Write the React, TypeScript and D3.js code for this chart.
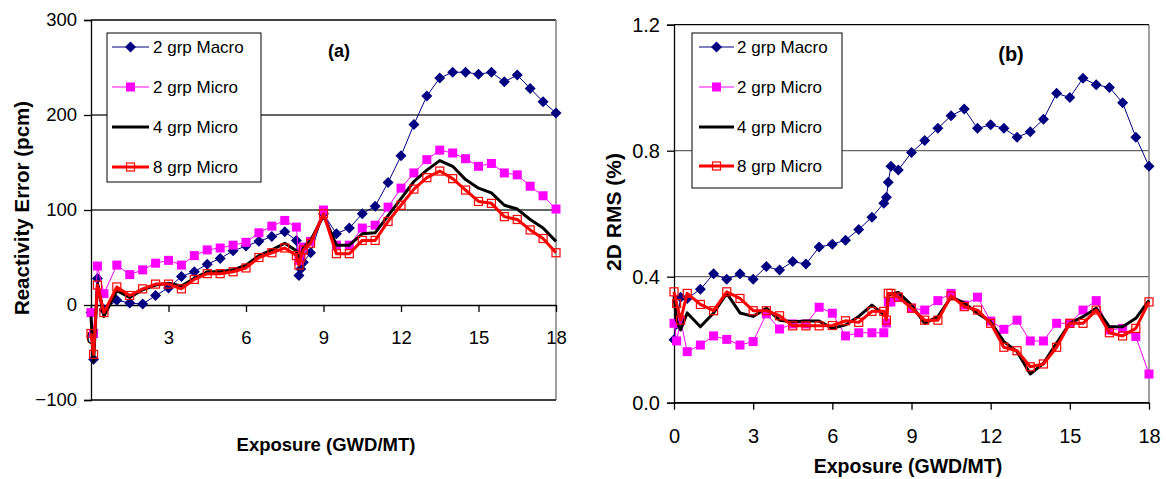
import React, { useRef, useEffect } from 'react';
import * as d3 from 'd3';

// exposure points (GWD/MT), shared by both panels
const exposure = [
  0, 0.1, 0.25, 0.5,
  1, 1.5, 2, 2.5, 3, 3.5, 4, 4.5, 5, 5.5, 6, 6.5, 7, 7.5,
  7.95, 8.05, 8.12, 8.22, 8.5,
  9, 9.5, 10, 10.5, 11, 11.5, 12, 12.5, 13, 13.5, 14, 14.5, 15, 15.5, 16, 16.5, 17, 17.5, 18,
];

const seriesNames = ['2 grp Macro', '2 grp Micro', '4 grp Micro', '8 grp Micro'];

// (a) reactivity error, pcm
const reactMacro2 = [
  -8, -57, 28, -5,
  5, 2, 1, 10, 18, 30, 35, 43, 49, 57, 62, 67, 72, 77,
  68, 31, 38, 45, 55,
  96, 75, 81, 96, 104, 129, 157, 190, 220, 239, 245, 245, 243, 245, 235, 242, 228, 214, 202,
];
const reactMicro2 = [
  -8, -30, 41, 12,
  42, 32, 37, 44, 47, 42, 52, 58, 60, 63, 66, 76, 83, 89,
  82, 47, 55, 61, 67,
  100, 63, 63, 81, 84, 103, 123, 139, 153, 163, 160, 154, 146, 149, 139, 137, 125, 115, 101,
];
const reactMicro4 = [
  -12, -60, 22, -12,
  15, 8, 16, 21, 23, 20, 28, 35, 35, 37, 42, 52, 58, 65,
  57, 45, 52, 60, 68,
  94, 63, 63, 75, 76, 94, 112, 130, 142, 152, 146, 132, 123, 118, 105, 101, 90, 81, 67,
];
const reactMicro8 = [
  -30, -52, 21, -8,
  19, 10, 17, 22, 22, 17, 27, 33, 33, 35, 39, 50, 55, 60,
  52, 42, 50, 58, 65,
  96, 54, 54, 68, 68, 88, 105, 122, 134, 141, 133, 121, 109, 107, 93, 90, 79, 70, 55,
];

// (b) 2D RMS, %
const rmsMacro2 = [
  0.2, 0.25, 0.335, 0.331,
  0.36, 0.409, 0.392, 0.409, 0.392, 0.432, 0.421, 0.448, 0.44, 0.494, 0.503, 0.516, 0.55, 0.589,
  0.633, 0.652, 0.7, 0.751, 0.739,
  0.794, 0.832, 0.871, 0.911, 0.932, 0.871, 0.882, 0.871, 0.843, 0.86, 0.9, 0.982, 0.969, 1.03, 1.009, 1.001, 0.952, 0.843, 0.751,
];
const rmsMicro2 = [
  0.252, 0.196, 0.262, 0.162,
  0.183, 0.212, 0.201, 0.183, 0.194, 0.282, 0.234, 0.25, 0.25, 0.303, 0.284, 0.212, 0.222, 0.222,
  0.222, 0.253, 0.32, 0.32, 0.335,
  0.3, 0.294, 0.324, 0.347, 0.31, 0.335, 0.259, 0.233, 0.262, 0.196, 0.196, 0.252, 0.252, 0.294, 0.324, 0.231, 0.236, 0.21, 0.091,
];
const rmsMicro4 = [
  0.34, 0.26, 0.231, 0.285,
  0.241, 0.285, 0.347, 0.285, 0.274, 0.3, 0.262, 0.257, 0.259, 0.259, 0.236, 0.247, 0.274, 0.31,
  0.28, 0.27, 0.34, 0.345, 0.35,
  0.31, 0.252, 0.273, 0.335, 0.317, 0.284, 0.257, 0.194, 0.162, 0.091, 0.125, 0.189, 0.252, 0.273, 0.3, 0.241, 0.241, 0.268, 0.325,
];
const rmsMicro8 = [
  0.352, 0.315, 0.262, 0.347,
  0.312, 0.292, 0.352, 0.331, 0.292, 0.292, 0.276, 0.244, 0.244, 0.244, 0.245, 0.26, 0.255, 0.29,
  0.29, 0.262, 0.347, 0.347, 0.335,
  0.3, 0.262, 0.262, 0.339, 0.305, 0.294, 0.252, 0.176, 0.165, 0.114, 0.123, 0.176, 0.252, 0.252, 0.294, 0.222, 0.212, 0.236, 0.32,
];

const xTicks = [0, 3, 6, 9, 12, 15, 18];
const reactTicks = [-100, 0, 100, 200, 300];
const rmsTicks = [0, 0.4, 0.8, 1.2];

const FONT = 'Arial, "Liberation Sans", sans-serif';

// line / marker look of each series
const styles = [
  { color: '#000080', width: 1, marker: 'diamond' },
  { color: '#FF00FF', width: 1, marker: 'square' },
  { color: '#000000', width: 3, marker: 'none' },
  { color: '#FF0000', width: 3, marker: 'hollow' },
];

function drawMarker(g, kind, color, x, y) {
  if (kind === 'diamond') {
    g.append('path')
      .attr('d', `M${x},${y - 5.5}L${x + 5.5},${y}L${x},${y + 5.5}L${x - 5.5},${y}Z`)
      .attr('fill', color);
  } else if (kind === 'square') {
    g.append('rect').attr('x', x - 4.5).attr('y', y - 4.5).attr('width', 9).attr('height', 9)
      .attr('fill', color);
  } else if (kind === 'hollow') {
    g.append('rect').attr('x', x - 4).attr('y', y - 4).attr('width', 8).attr('height', 8)
      .attr('fill', 'none').attr('stroke', color).attr('stroke-width', 1.2);
  }
}

function drawPanel(svg, cfg) {
  const x = d3.scaleLinear().domain([0, 18]).range([cfg.left, cfg.right]);
  const y = d3.scaleLinear().domain(cfg.yDomain).range([cfg.bottom, cfg.top]);
  const g = svg.append('g');

  // gridlines
  cfg.grid.forEach(v => {
    g.append('line').attr('x1', cfg.left).attr('x2', cfg.right)
      .attr('y1', y(v)).attr('y2', y(v))
      .attr('stroke', cfg.gridColor).attr('stroke-width', 1.3);
  });

  // plot frame
  g.append('line').attr('x1', cfg.left).attr('x2', cfg.right).attr('y1', cfg.top).attr('y2', cfg.top)
    .attr('stroke', '#000').attr('stroke-width', 1.3);
  g.append('line').attr('x1', cfg.right).attr('x2', cfg.right).attr('y1', cfg.top).attr('y2', cfg.bottom)
    .attr('stroke', '#808080').attr('stroke-width', 1.5);
  g.append('line').attr('x1', cfg.left).attr('x2', cfg.right).attr('y1', cfg.bottom).attr('y2', cfg.bottom)
    .attr('stroke', '#000').attr('stroke-width', 1.3);

  // y axis
  const yAxis = g.append('g').attr('transform', `translate(${cfg.left},0)`)
    .call(d3.axisLeft(y).tickValues(cfg.yTicks).tickSize(7).tickFormat(cfg.yFormat));
  yAxis.select('.domain').attr('stroke', '#000').attr('stroke-width', 1.3);
  yAxis.selectAll('.tick line').attr('stroke', '#000').attr('stroke-width', 1.3);
  yAxis.selectAll('.tick text').attr('font-family', FONT).attr('font-size', cfg.tickSize)
    .attr('fill', '#000').attr('x', -cfg.yLabelGap);

  // x axis, crossing at y = 0
  const xAxis = g.append('g').attr('transform', `translate(0,${y(0)})`)
    .call(d3.axisBottom(x).tickValues(xTicks).tickSize(7).tickSizeOuter(0));
  xAxis.select('.domain').attr('stroke', '#000').attr('stroke-width', 1.3);
  xAxis.selectAll('.tick line').attr('stroke', '#000').attr('stroke-width', 1.3);
  xAxis.selectAll('.tick text').attr('font-family', FONT).attr('font-size', cfg.tickSize)
    .attr('fill', '#000').attr('dy', null).attr('y', cfg.xLabelDy);

  // series
  const line = d3.line().x(d => x(d[0])).y(d => y(d[1]));
  cfg.series.forEach((vals, i) => {
    const st = styles[i];
    const pts = exposure.map((e, j) => [e, vals[j]]);
    g.append('path').datum(pts).attr('d', line)
      .attr('fill', 'none').attr('stroke', st.color).attr('stroke-width', st.width)
      .attr('stroke-linejoin', 'round');
    pts.forEach(p => drawMarker(g, st.marker, st.color, x(p[0]), y(p[1])));
  });

  // legend
  const lg = g.append('g');
  lg.append('rect').attr('x', cfg.legend.x).attr('y', cfg.legend.y)
    .attr('width', cfg.legend.w).attr('height', cfg.legend.h)
    .attr('fill', '#fff').attr('stroke', '#000').attr('stroke-width', 1);
  seriesNames.forEach((name, i) => {
    const st = styles[i];
    const ry = cfg.legend.rows[i];
    const lx0 = cfg.legend.lineX0, lx1 = cfg.legend.lineX1;
    lg.append('line').attr('x1', lx0).attr('x2', lx1).attr('y1', ry).attr('y2', ry)
      .attr('stroke', st.color).attr('stroke-width', st.width);
    drawMarker(lg, st.marker, st.color, (lx0 + lx1) / 2, ry);
    lg.append('text').attr('x', cfg.legend.textX).attr('y', ry + 6)
      .attr('font-family', FONT).attr('font-size', 17).attr('fill', '#000').text(name);
  });

  // panel tag
  g.append('text').attr('x', cfg.tag.x).attr('y', cfg.tag.y).attr('text-anchor', 'middle')
    .attr('font-family', FONT).attr('font-size', cfg.tag.size).attr('font-weight', 'bold')
    .text(cfg.tag.text);

  // axis titles
  g.append('text').attr('x', cfg.xTitle.x).attr('y', cfg.xTitle.y).attr('text-anchor', 'middle')
    .attr('font-family', FONT).attr('font-size', cfg.xTitle.size).attr('font-weight', 'bold')
    .text('Exposure (GWD/MT)');
  g.append('text')
    .attr('transform', `translate(${cfg.yTitle.x},${cfg.yTitle.y}) rotate(-90)`)
    .attr('text-anchor', 'middle')
    .attr('font-family', FONT).attr('font-size', cfg.yTitle.size).attr('font-weight', 'bold')
    .text(cfg.yTitle.text);
}

export default function App() {
  const svgRef = useRef(null);

  useEffect(() => {
    document.body.style.margin = '0';
    const svg = d3.select(svgRef.current);
    svg.selectAll('*').remove();

    drawPanel(svg, {
      left: 91, right: 556, top: 20, bottom: 400,
      yDomain: [-100, 300], yTicks: reactTicks, yFormat: d3.format('d'),
      grid: [100, 200], gridColor: '#333',
      tickSize: 18.5, yLabelGap: 14, xLabelDy: 39,
      series: [reactMacro2, reactMicro2, reactMicro4, reactMicro8],
      legend: { x: 107, y: 33, w: 154, h: 149, rows: [47, 87, 127, 167], lineX0: 112, lineX1: 149, textX: 153 },
      tag: { x: 339, y: 57, size: 18, text: '(a)' },
      xTitle: { x: 326, y: 451, size: 18.5 },
      yTitle: { x: 29, y: 208, size: 20.5, text: 'Reactivity Error (pcm)' },
    });

    drawPanel(svg, {
      left: 674, right: 1149, top: 24.7, bottom: 402.7,
      yDomain: [0, 1.2], yTicks: rmsTicks, yFormat: d3.format('.1f'),
      grid: [0.4, 0.8], gridColor: '#666',
      tickSize: 20, yLabelGap: 14, xLabelDy: 40,
      series: [rmsMacro2, rmsMicro2, rmsMicro4, rmsMicro8],
      legend: { x: 692, y: 33, w: 150, h: 155, rows: [47, 87, 127, 166], lineX0: 699, lineX1: 734, textX: 737 },
      tag: { x: 1011, y: 61, size: 20, text: '(b)' },
      xTitle: { x: 908, y: 473, size: 19.5 },
      yTitle: { x: 621, y: 212, size: 21, text: '2D RMS (%)' },
    });
  }, []);

  return <svg ref={svgRef} width={1166} height={479} style={{ display: 'block', background: '#fff' }} />;
}
